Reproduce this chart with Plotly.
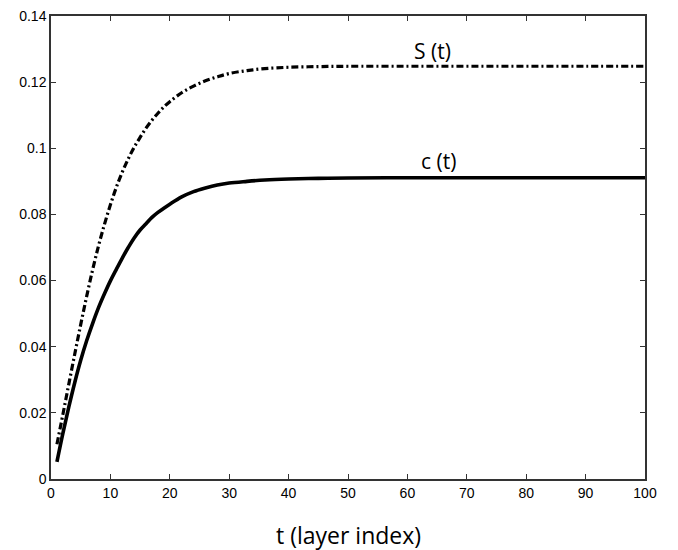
import plotly.graph_objects as go

# layer index and the two curves
t = [1, 2, 3, 4, 5, 6, 7, 8, 9, 10, 11, 12, 13, 14, 15, 16, 17, 18, 19, 20,
     22, 24, 26, 28, 30, 33, 36, 40, 45, 50, 60, 70, 80, 90, 100]
c_t = [0.0052, 0.0138, 0.0218, 0.0292, 0.0359, 0.0418, 0.0470, 0.0518, 0.0560, 0.0599,
       0.0634, 0.0668, 0.0700, 0.0729, 0.0753, 0.0772, 0.0791, 0.0806, 0.0819, 0.0831,
       0.0853, 0.0869, 0.0880, 0.0889, 0.0895, 0.0900, 0.0904, 0.0907, 0.0909, 0.0910,
       0.0911, 0.0911, 0.0911, 0.0911, 0.0911]
s_t = [0.0105, 0.0195, 0.0287, 0.0378, 0.0467, 0.0552, 0.0632, 0.0705, 0.0770, 0.0829,
       0.0882, 0.0928, 0.0968, 0.1003, 0.1033, 0.1061, 0.1085, 0.1106, 0.1125, 0.1141,
       0.1168, 0.1188, 0.1204, 0.1216, 0.1226, 0.1235, 0.1241, 0.1245, 0.1247, 0.1248,
       0.1248, 0.1248, 0.1248, 0.1248, 0.1248]

fig = go.Figure()
fig.add_trace(go.Scatter(x=t, y=s_t, mode="lines", line=dict(color="black", width=3.2, dash="7px,3px,2px,3px"),
                         line_shape="spline", showlegend=False))
fig.add_trace(go.Scatter(x=t, y=c_t, mode="lines", line=dict(color="black", width=3.6),
                         line_shape="spline", showlegend=False))

fig.add_annotation(x=64.3, y=0.1295, text="S (t)", showarrow=False,
                   font=dict(family="Open Sans", size=21, color="black"))
fig.add_annotation(x=65.3, y=0.0962, text="c (t)", showarrow=False,
                   font=dict(family="Open Sans", size=21, color="black"))
fig.add_annotation(x=0.5, y=0, xref="paper", yref="paper", yanchor="middle", yshift=-56,
                   text="t (layer index)", showarrow=False,
                   font=dict(family="Open Sans", size=23, color="black"))

axis_style = dict(showline=True, linecolor="#333", linewidth=1.5, mirror="ticks", ticks="inside",
                  ticklen=5, tickcolor="#333", showgrid=False, zeroline=False, automargin=False,
                  ticklabeloverflow="allow",
                  tickfont=dict(family="Liberation Sans", size=14, color="black"))
fig.update_xaxes(range=[0, 100], dtick=10, **axis_style)
fig.update_yaxes(range=[0, 0.14], dtick=0.02, tickformat="~g", **axis_style)

# page body adds 8px offset, so margins are shifted to land the plot where the reference has it
# (top kept at 8 so the 0.14 label is not clipped)
fig.update_layout(width=678, height=550, plot_bgcolor="white", paper_bgcolor="white",
                  margin=dict(l=43, r=41, t=8, b=79))

fig.write_html("out.html")
